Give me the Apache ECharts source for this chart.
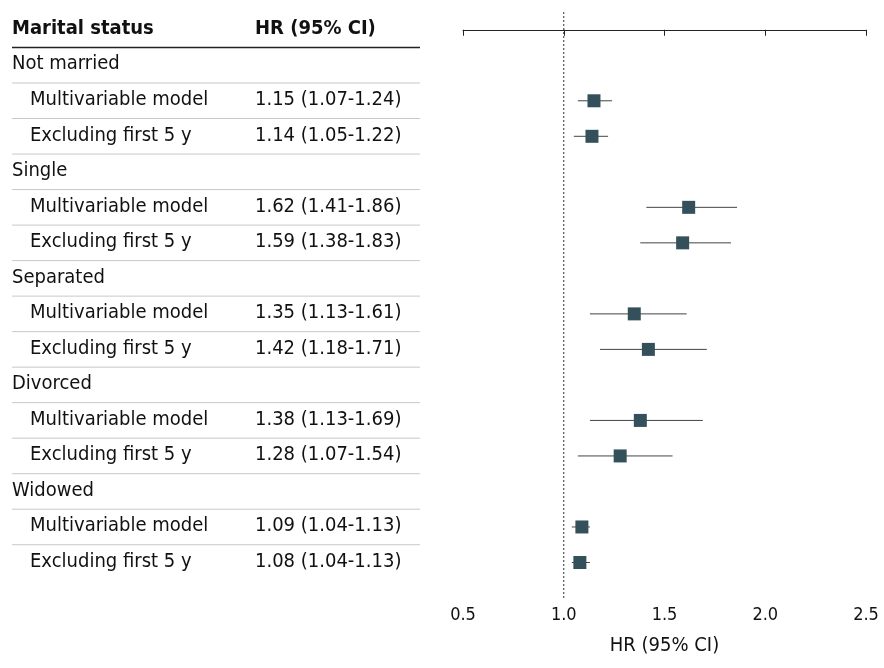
<!DOCTYPE html>
<html><head><meta charset="utf-8">
<script src="https://cdn.jsdelivr.net/npm/echarts@6/dist/echarts.min.js"></script>
<style>html,body{margin:0;padding:0;background:#fff}#c{width:884px;height:668px}</style>
</head><body><div id="c"></div>
<script>
var FONT = "'Liberation Sans Narrow','DejaVu Sans Condensed',sans-serif";
// rows: group headings have no estimate
var groups = ['Not married', 'Single', 'Separated', 'Divorced', 'Widowed'];
var models = ['Multivariable model', 'Excluding first 5 y'];
var hr = [1.15, 1.14, 1.62, 1.59, 1.35, 1.42, 1.38, 1.28, 1.09, 1.08];
var lo = [1.07, 1.05, 1.41, 1.38, 1.13, 1.18, 1.13, 1.07, 1.04, 1.04];
var hi = [1.24, 1.22, 1.86, 1.83, 1.61, 1.71, 1.69, 1.54, 1.13, 1.13];
var xTicks = [0.5, 1.0, 1.5, 2.0, 2.5];

var rows = [];
var pts = [];
var k = 0;
groups.forEach(function (g) {
  rows.push({ label: g, indent: false });
  models.forEach(function (m) {
    var y = rows.length + 1;
    var txt = hr[k].toFixed(2) + ' (' + lo[k].toFixed(2) + '-' + hi[k].toFixed(2) + ')';
    rows.push({ label: m, indent: true, ci: txt });
    pts.push([hr[k], y, lo[k], hi[k]]);
    k++;
  });
});

var chart = echarts.init(document.getElementById('c'));
chart.setOption({
  animation: false,
  grid: { left: 463, right: 18, top: 12, bottom: 70 },
  xAxis: {
    type: 'value', min: 0.5, max: 2.5, interval: 0.5,
    name: 'HR (95% CI)', nameLocation: 'middle', nameGap: 38,
    nameTextStyle: { fontFamily: FONT, fontSize: 20, color: '#111' },
    axisLine: { lineStyle: { color: '#222' } },
    axisTick: { length: 6, lineStyle: { color: '#222' } },
    axisLabel: { fontFamily: FONT, fontSize: 18, color: '#111', formatter: function (v) { return v.toFixed(1); } },
    splitLine: { show: false }
  },
  yAxis: { type: 'value', inverse: true, min: -0.5, max: 16, show: false },
  series: [
    {
      type: 'custom',
      data: pts,
      renderItem: function (p, api) {
        var a = api.coord([api.value(2), api.value(1)]);
        var b = api.coord([api.value(3), api.value(1)]);
        return { type: 'line', shape: { x1: a[0], y1: a[1], x2: b[0], y2: b[1] }, style: { stroke: '#444', lineWidth: 1 } };
      },
      z: 2
    },
    {
      type: 'scatter', data: pts.map(function (d) { return [d[0], d[1]]; }),
      symbol: 'rect', symbolSize: 13, itemStyle: { color: '#34505a', opacity: 1 }, z: 3
    },
    {
      type: 'line', data: [[1, -0.5], [1, 16]], symbol: 'none',
      lineStyle: { color: '#333', width: 1, type: [2, 2] }, z: 1
    }
  ]
});

function yPix(v) { return chart.convertToPixel({ gridIndex: 0 }, [1, v])[1]; }
var g = [];
g.push({ type: 'text', left: 12, top: yPix(0) - 11, style: { text: 'Marital status', font: 'bold 20px ' + FONT, fill: '#111' } });
g.push({ type: 'text', left: 255, top: yPix(0) - 11, style: { text: 'HR (95% CI)', font: 'bold 20px ' + FONT, fill: '#111' } });
g.push({ type: 'line', shape: { x1: 12, y1: yPix(0.5), x2: 420, y2: yPix(0.5) }, style: { stroke: '#222', lineWidth: 1.5 } });
rows.forEach(function (r, i) {
  var y = yPix(i + 1);
  g.push({ type: 'text', left: r.indent ? 30 : 12, top: y - 11, style: { text: r.label, font: '20px ' + FONT, fill: '#111' } });
  if (r.ci) g.push({ type: 'text', left: 255, top: y - 11, style: { text: r.ci, font: '20px ' + FONT, fill: '#111' } });
  if (i < rows.length - 1) {
    var ys = yPix(i + 1.5);
    g.push({ type: 'line', shape: { x1: r.indent && !rows[i + 1].indent ? 12 : (rows[i + 1].indent ? 12 : 12), y1: ys, x2: 420, y2: ys }, style: { stroke: '#c8c8c8', lineWidth: 1 } });
  }
});
chart.setOption({ graphic: g });
</script>
</body></html>
